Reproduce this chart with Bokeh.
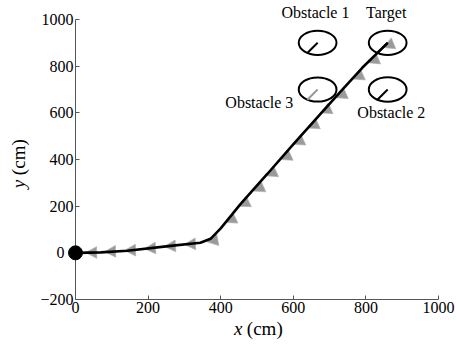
import numpy as np
from bokeh.plotting import figure
from bokeh.models import Label, Range1d, LinearAxis, FixedTicker
from bokeh.embed import file_html
from bokeh.resources import INLINE

# ---- data (cm) ----
path_x = [0, 70, 143, 262, 344, 372, 400, 455, 529, 601, 675, 732, 790, 860]
path_y = [0, 2, 9, 30, 43, 60, 105, 210, 339, 467, 596, 694, 793, 900]

fan_x = [28, 80, 135, 190, 245, 300, 362, 413, 450, 490, 525, 565, 600, 640, 675, 717, 764, 806, 848]
fan_y = [1, 5, 10, 18, 27, 36, 47, 130, 200, 265, 330, 400, 465, 535, 600, 665, 745, 815, 880]

obs_names = ["Obstacle 1", "Target", "Obstacle 3", "Obstacle 2"]
obs_x = [667, 860, 667, 860]
obs_y = [900, 900, 700, 700]
obs_r = 52
obs_line_color = ["black", "black", "#999999", "black"]

label_x = [661, 856, 600, 870]
label_y = [1029, 1029, 643, 600]
label_align = ["center", "center", "right", "center"]

x_ticks = [0, 200, 400, 600, 800, 1000]
y_ticks = [-200, 0, 200, 400, 600, 800, 1000]

FONT = "Liberation Serif"
W, H = 455, 343
sx = 0.363       # px per cm along x
sy = 280 / 1200  # px per cm along y
x0 = -75 / sx
y1 = 1000 + 19 / sy

p = figure(width=W, height=H, output_backend="svg", toolbar_location=None, title=None,
           x_range=Range1d(x0, x0 + W / sx), y_range=Range1d(y1 - H / sy, y1),
           x_axis_location=None, y_axis_location=None, min_border=0)
p.outline_line_color = None
p.grid.visible = False
p.background_fill_color = "white"
p.border_fill_color = "white"

xax = LinearAxis(fixed_location=-200, bounds=(0, 1000), ticker=FixedTicker(ticks=x_ticks))
yax = LinearAxis(fixed_location=0, bounds=(-200, 1000), ticker=FixedTicker(ticks=y_ticks))
yax.major_label_overrides = {0: ""}
for ax in (xax, yax):
    ax.major_tick_in = 4
    ax.major_tick_out = 0
    ax.minor_tick_line_color = None
    ax.axis_line_color = "#555555"
    ax.major_tick_line_color = "#555555"
    ax.major_label_text_font = FONT
    ax.major_label_text_font_size = "16px"
    ax.major_label_text_color = "black"
    ax.major_label_standoff = 2
p.add_layout(xax, "below")
p.add_layout(yax, "left")
# y tick label "0" sits a little further left, clear of the start marker
p.add_layout(Label(x=-30, y=0, text="0", text_align="right", text_baseline="middle",
                   text_font=FONT, text_font_size="16px", text_color="black"))

# fans (grey wedges) along the path
px = np.array(path_x, float)
py = np.array(path_y, float)
xs, ys = [], []
for fx, fy in zip(fan_x, fan_y):
    i = int(np.clip(np.searchsorted(px, fx), 1, len(px) - 1))
    hd = np.arctan2((py[i] - py[i - 1]) * sy, (px[i] - px[i - 1]) * sx)
    d = hd * 0.5
    a = np.radians(28)
    L = 12.5
    xs.append([fx, fx + L * np.cos(d + a) / sx, fx + L * np.cos(d - a) / sx])
    ys.append([fy, fy + L * np.sin(d + a) / sy, fy + L * np.sin(d - a) / sy])
p.patches(xs, ys, fill_color="#959595", fill_alpha=0.95, line_color="#b0b0b0", line_width=0.7)

# trajectory
p.line(path_x, path_y, line_color="black", line_width=2.6)
p.scatter([path_x[0]], [path_y[0]], size=14, color="black", level="overlay")

# obstacles / target
p.ellipse(obs_x, obs_y, width=2 * obs_r, height=2 * obs_r, fill_color=None,
          line_color="black", line_width=2)
ang = np.radians(57)
seg_x1 = [x - obs_r * np.cos(ang) for x in obs_x]
seg_y1 = [y - obs_r * np.sin(ang) for y in obs_y]
p.segment(obs_x, obs_y, seg_x1, seg_y1, line_color=obs_line_color, line_width=2)

for name, lx, ly, al in zip(obs_names, label_x, label_y, label_align):
    p.add_layout(Label(x=lx, y=ly, text=name, text_align=al, text_baseline="middle",
                       text_font=FONT, text_font_size="16px", text_color="black"))

# axis titles
p.add_layout(Label(x=460, y=-326, text="x", text_align="right", text_baseline="middle",
                   text_font=FONT, text_font_style="italic", text_font_size="19px",
                   text_color="black"))
p.add_layout(Label(x=472, y=-326, text="(cm)", text_align="left", text_baseline="middle",
                   text_font=FONT, text_font_size="19px", text_color="black"))
p.add_layout(Label(x=-157, y=313, text="y", text_align="right", text_baseline="middle",
                   angle=np.pi / 2, text_font=FONT, text_font_style="italic", text_font_size="19px",
                   text_color="black"))
p.add_layout(Label(x=-157, y=333, text="(cm)", text_align="left", text_baseline="middle",
                   angle=np.pi / 2, text_font=FONT, text_font_size="19px", text_color="black"))

open("out.html", "w").write(file_html(p, INLINE))
